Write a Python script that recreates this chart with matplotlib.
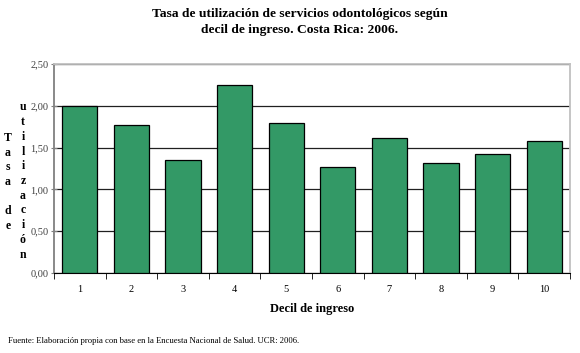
"""Tasa de utilizacion de servicios odontologicos por decil de ingreso."""

import matplotlib
matplotlib.use("Agg")
import matplotlib.pyplot as plt
from matplotlib.ticker import FuncFormatter

deciles = ["1", "2", "3", "4", "5", "6", "7", "8", "9", "10"]
tasa = [2.00, 1.77, 1.35, 2.25, 1.80, 1.27, 1.62, 1.31, 1.42, 1.58]
y_ticks = [0.0, 0.5, 1.0, 1.5, 2.0, 2.5]

title = "Tasa de utilización de servicios odontológicos según\ndecil de ingreso. Costa Rica: 2006."
x_label = "Decil de ingreso"
y_label_1 = "Tasa de"
y_label_2 = "utilización"
source = "Fuente: Elaboración propia con base en la Encuesta Nacional de Salud. UCR: 2006."


def main():
    plt.rcParams["font.family"] = ["Liberation Serif", "DejaVu Serif"]

    fig = plt.figure(figsize=(5.8, 3.53), dpi=100)
    ax = fig.add_axes([54 / 580, 1 - 273 / 353, 516 / 580, 209 / 353])

    xs = list(range(len(deciles)))
    ax.bar(xs, tasa, width=0.68, color="#339966", edgecolor="black",
           linewidth=0.9, zorder=3)

    ax.set_xlim(-0.5, len(deciles) - 0.5)
    ax.set_ylim(0, 2.5)
    ax.set_yticks(y_ticks)
    ax.yaxis.set_major_formatter(FuncFormatter(lambda v, _: f"{v:.2f}".replace(".", ",")))
    ax.yaxis.grid(True, color="#202020", linewidth=0.9, zorder=0)

    # category labels at centres, tick marks at boundaries
    ax.set_xticks(xs)
    ax.set_xticklabels(deciles)
    ax.tick_params(axis="x", which="major", length=0, labelsize=7.5, pad=9)
    ax.set_xticks([x + 0.5 for x in xs[:-1]] + [-0.5, len(deciles) - 0.5], minor=True)
    ax.tick_params(axis="x", which="minor", length=4, direction="out", color="black")
    ax.tick_params(axis="y", labelsize=7.5, length=4, direction="inout", color="#808080", pad=2)
    for lbl in ax.get_yticklabels():
        lbl.set_color("#404040")

    ax.spines["left"].set_color("#808080")
    ax.spines["left"].set_linewidth(1.3)
    ax.spines["bottom"].set_color("black")
    ax.spines["top"].set_color("#c0c0c0")
    ax.spines["right"].set_color("#c0c0c0")
    ax.spines["top"].set_linewidth(1.3)
    ax.spines["right"].set_linewidth(1.3)

    fig.text(300 / 580, 1 - 22 / 353, title, ha="center", va="center",
             fontsize=9.7, fontweight="bold", linespacing=1.4)
    fig.text(312 / 580, 1 - 309 / 353, x_label, ha="center", va="center",
             fontsize=9, fontweight="bold")

    # vertical stacked y label, two columns
    fig.text(8 / 580, 1 - 182 / 353, "\n".join(y_label_1), ha="center", va="center",
             fontsize=8.5, fontweight="bold", linespacing=1.3)
    fig.text(23 / 580, 1 - 181 / 353, "\n".join(y_label_2), ha="center", va="center",
             fontsize=8.5, fontweight="bold", linespacing=1.3)

    fig.text(8 / 580, 1 - 341 / 353, source, ha="left", va="center", fontsize=6.2)

    fig.savefig("out.png", dpi=100)


if __name__ == "__main__":
    main()
